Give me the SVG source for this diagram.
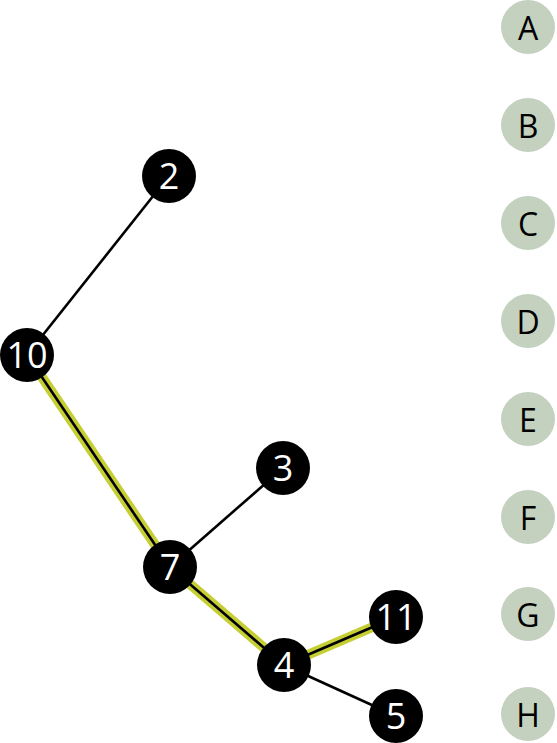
<svg xmlns="http://www.w3.org/2000/svg" width="557" height="743" viewBox="0 0 557 743">
<style>
.hl{stroke:#c5cf33;stroke-width:10;fill:none;stroke-linecap:butt}
.e{stroke:#000;stroke-width:2.6;fill:none}
.n circle{fill:#000}
.n text{fill:#fff;font-family:"Open Sans",sans-serif;font-size:36px;text-anchor:middle;dominant-baseline:central}
.l circle{fill:#c5d1bf}
.l text{fill:#000;font-family:"Open Sans",sans-serif;font-size:32px;text-anchor:middle;dominant-baseline:central}
</style>
<rect width="557" height="743" fill="#fff"/>
<g id="connectors">
<polyline class="hl" points="27,355 170,567 284,665 396,617"/>
<line class="e" x1="27" y1="355" x2="169" y2="176"/>
<line class="e" x1="27" y1="355" x2="170" y2="567"/>
<line class="e" x1="170" y1="567" x2="283" y2="468"/>
<line class="e" x1="170" y1="567" x2="284" y2="665"/>
<line class="e" x1="284" y1="665" x2="396" y2="617"/>
<line class="e" x1="284" y1="665" x2="396" y2="716"/>
</g>
<g id="n2" class="n"><circle cx="169" cy="176" r="27"/><text x="169" y="175">2</text></g>
<g id="n10" class="n"><circle cx="27" cy="355" r="27"/><text x="27" y="354">10</text></g>
<g id="n3" class="n"><circle cx="283" cy="468" r="27"/><text x="283" y="467">3</text></g>
<g id="n7" class="n"><circle cx="170" cy="567" r="27"/><text x="170" y="566">7</text></g>
<g id="n4" class="n"><circle cx="284" cy="665" r="27"/><text x="284" y="664">4</text></g>
<g id="n11" class="n"><circle cx="396" cy="617" r="27"/><text x="396" y="616">11</text></g>
<g id="n5" class="n"><circle cx="396" cy="716" r="27"/><text x="396" y="715">5</text></g>
<g id="lA" class="l"><circle cx="528" cy="27" r="27"/><text x="528" y="27">A</text></g>
<g id="lB" class="l"><circle cx="528" cy="125" r="27"/><text x="528" y="125">B</text></g>
<g id="lC" class="l"><circle cx="528" cy="223" r="27"/><text x="528" y="223">C</text></g>
<g id="lD" class="l"><circle cx="528" cy="321" r="27"/><text x="528" y="321">D</text></g>
<g id="lE" class="l"><circle cx="528" cy="419" r="27"/><text x="528" y="419">E</text></g>
<g id="lF" class="l"><circle cx="528" cy="517" r="27"/><text x="528" y="517">F</text></g>
<g id="lG" class="l"><circle cx="528" cy="614" r="27"/><text x="528" y="614">G</text></g>
<g id="lH" class="l"><circle cx="528" cy="714" r="27"/><text x="528" y="714">H</text></g>
</svg>
